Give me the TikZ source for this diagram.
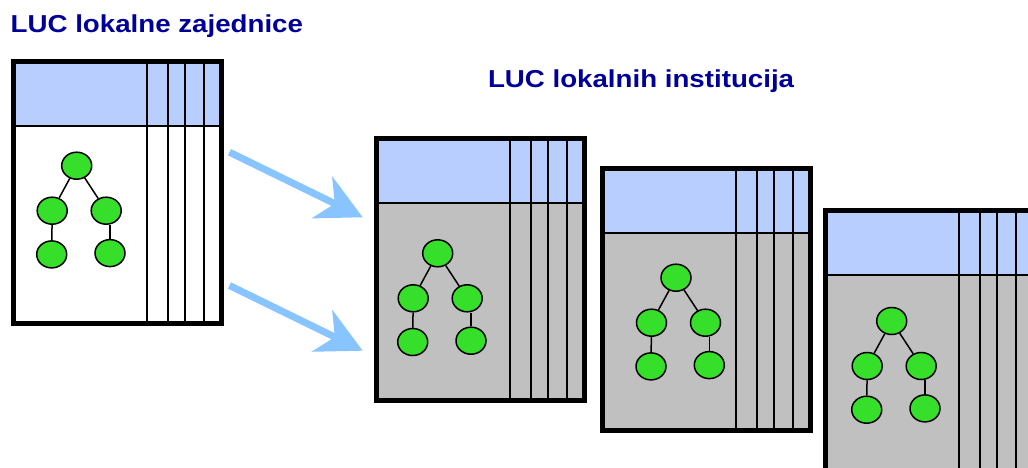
\documentclass[tikz,border=0pt]{standalone}
\usepackage{fontspec}
\setsansfont{Liberation Sans}
\usepackage{tikz}
\usetikzlibrary{shapes.geometric,arrows.meta,positioning}
\definecolor{lucTitle}{RGB}{0,0,153}
\definecolor{lucHeaderFill}{RGB}{184,206,255}
\definecolor{lucBodyFill}{RGB}{192,192,192}
\definecolor{lucTreeFill}{RGB}{54,224,42}
\definecolor{lucArrow}{RGB}{136,196,255}
\newcommand{\luctitle}[1]{\scalebox{1.13}[1]{#1}}
\tikzset{
  figtitle/.style={anchor=base west, inner sep=0pt, font=\sffamily\bfseries\fontsize{24.5}{28}\selectfont,
    text=lucTitle},
  tableframe/.style={rectangle, draw=black, line width=5pt, minimum width=208pt, minimum height=262pt,
    inner sep=0pt},
  tablecol/.style={draw=black, line width=2pt},
  treenode/.style={ellipse, draw=black, fill=lucTreeFill, line width=1.5pt, minimum width=30pt,
    minimum height=27pt, inner sep=0pt},
  treeedge/.style={draw=black, line width=1.5pt},
  flowarrow/.style={-{Stealth[length=45pt,width=46pt,inset=14pt]}, draw=lucArrow, line width=7pt},
  luctable/.pic={
    \node[tableframe, pic actions] (-frame) at (106.5,133.5) {};
    \fill[lucHeaderFill] (5,5) rectangle (208,67);
    \draw[tablecol] (5,67) -- (208,67);
    \foreach \cx in {136,157,173.5,193}
      \draw[tablecol] (\cx,5) -- (\cx,262);
  },
  luctree/.pic={
    \node[treenode] (-root) at (0,0) {};
    \node[treenode] (-left) at (-24.5,45) {};
    \node[treenode] (-right) at (29.5,45) {};
    \node[treenode] (-leftleaf) at (-25,88.7) {};
    \node[treenode] (-rightleaf) at (33.3,87.4) {};
    \draw[treeedge] (-root) -- (-left);
    \draw[treeedge] (-root) -- (-right);
    \draw[treeedge] (-left) -- (-leftleaf);
    \draw[treeedge] (-right.south -| -rightleaf.north) -- (-rightleaf.north);
  },
}

\begin{document}
\begin{tikzpicture}[x=1pt,y=-1pt]
  \useasboundingbox (0,0) rectangle (1028,468);
  \clip (0,0) rectangle (1028,468);
  \fill[white] (0,0) rectangle (1028,468);

  % --- Titles ---
  \node[figtitle] (localtitle) at (10.5,32.3) {\luctitle{LUC lokalne zajednice}};
  \node[figtitle] (insttitle) at (487.8,87.7) {\luctitle{LUC lokalnih institucija}};

  % --- Local community table ---
  \pic[fill=white] (local) at (11,59) {luctable};
  \pic (localtree) at (76.7,165.7) {luctree};

  % --- Institution tables ---
  \pic[fill=lucBodyFill] (instA) at (374,136) {luctable};
  \pic (instAtree) at (437.7,253.3) {luctree};
  \pic[fill=lucBodyFill] (instB) at (600,166) {luctable};
  \pic (instBtree) at (676,277.7) {luctree};
  \pic[fill=lucBodyFill] (instC) at (823,208) {luctable};
  \pic (instCtree) at (891.7,321) {luctree};

  % --- Flow arrows ---
  \coordinate (upperfrom) at (229.5,152.2);
  \coordinate (upperto) at (362.7,217.3);
  \coordinate (lowerfrom) at (229.5,285.5);
  \coordinate (lowerto) at (362.7,350.7);
  \draw[flowarrow] (upperfrom) -- (upperto);
  \draw[flowarrow] (lowerfrom) -- (lowerto);
\end{tikzpicture}
\end{document}
